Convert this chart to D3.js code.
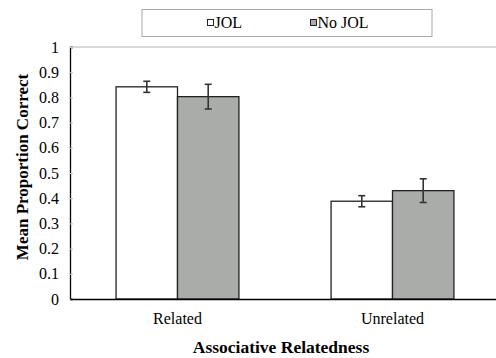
<!DOCTYPE html>
<html>
<head>
<meta charset="utf-8">
<script src="https://cdn.jsdelivr.net/npm/d3@7"></script>
<style>
  body { margin: 0; background: #fff; }
</style>
</head>
<body>
<script>
// data
const categories = ["Related", "Unrelated"];
const series = ["JOL", "No JOL"];
const jolMeans = [0.842, 0.388];
const noJolMeans = [0.803, 0.430];
const jolErr = [0.022, 0.022];
const noJolErr = [0.049, 0.047];
const yTicks = [0, 0.1, 0.2, 0.3, 0.4, 0.5, 0.6, 0.7, 0.8, 0.9, 1];
const fills = ["#ffffff", "#aaacaa"];

const FONT = "Liberation Serif";
const width = 496, height = 358;
const margin = {top: 47, bottom: 59, left: 70, right: -4};

const svg = d3.select('body').append('svg')
    .attr('width', width)
    .attr('height', height)
    .attr('font-family', FONT);

const x0 = d3.scaleBand()
    .domain(categories)
    .range([margin.left, width - margin.right])
    .paddingInner(0).paddingOuter(0);

const x1 = d3.scaleBand()
    .domain(series)
    .range([0, x0.bandwidth()])
    .paddingInner(0)
    .paddingOuter(0.75);

const y = d3.scaleLinear()
    .domain([0, 1])
    .range([height - margin.bottom, margin.top]);

// top border line of plot area
svg.append('line')
    .attr('x1', margin.left).attr('x2', width)
    .attr('y1', y(1)).attr('y2', y(1))
    .attr('stroke', '#b4b4b4').attr('stroke-width', 1);

// y axis
const yAxis = svg.append('g')
    .attr('transform', `translate(${margin.left},0)`)
    .call(d3.axisLeft(y).tickValues(yTicks).tickSize(-3).tickPadding(11)
        .tickFormat(d => d3.format('')(+d.toFixed(1))));
yAxis.attr('font-family', FONT).attr('font-size', 16);
yAxis.select('.domain').attr('stroke', '#000').attr('stroke-width', 1.3);
yAxis.selectAll('.tick line').attr('stroke', '#c8c8c8');
yAxis.selectAll('text').attr('fill', '#000');

// rows of data for bars
const rows = categories.map((c, i) => ({
  cat: c,
  vals: [
    {s: series[0], v: jolMeans[i], e: jolErr[i], f: fills[0]},
    {s: series[1], v: noJolMeans[i], e: noJolErr[i], f: fills[1]}
  ]
}));

const groups = svg.selectAll('g.grp').data(rows).join('g')
    .attr('class', 'grp')
    .attr('transform', d => `translate(${x0(d.cat)},0)`);

groups.selectAll('rect').data(d => d.vals).join('rect')
    .attr('x', d => x1(d.s))
    .attr('y', d => y(d.v))
    .attr('width', x1.bandwidth())
    .attr('height', d => y(0) - y(d.v))
    .attr('fill', d => d.f)
    .attr('stroke', '#222')
    .attr('stroke-width', 1.3);

// error bars
const eb = groups.selectAll('g.err').data(d => d.vals).join('g')
    .attr('class', 'err')
    .attr('transform', d => `translate(${x1(d.s) + x1.bandwidth() / 2},0)`)
    .attr('stroke', '#333').attr('stroke-width', 1.6);
eb.append('line')
    .attr('y1', d => y(d.v + d.e)).attr('y2', d => y(d.v - d.e));
eb.append('line')
    .attr('x1', -3.5).attr('x2', 3.5)
    .attr('y1', d => y(d.v + d.e)).attr('y2', d => y(d.v + d.e));
eb.append('line')
    .attr('x1', -3.5).attr('x2', 3.5)
    .attr('y1', d => y(d.v - d.e)).attr('y2', d => y(d.v - d.e));

// x axis
const xAxis = svg.append('g')
    .attr('transform', `translate(0,${y(0)})`)
    .call(d3.axisBottom(x0).tickSize(0).tickPadding(14));
xAxis.attr('font-family', FONT).attr('font-size', 16);
xAxis.select('.domain').attr('stroke', '#000').attr('stroke-width', 1.3);
xAxis.selectAll('text').attr('fill', '#000');

// axis titles
svg.append('text')
    .attr('x', 281).attr('y', 353)
    .attr('text-anchor', 'middle')
    .attr('font-size', 17.5).attr('font-weight', 'bold')
    .text('Associative Relatedness');

svg.append('text')
    .attr('transform', 'translate(28,167) rotate(-90)')
    .attr('text-anchor', 'middle')
    .attr('font-size', 17).attr('font-weight', 'bold')
    .text('Mean Proportion Correct');

// legend
const legend = svg.append('g');
legend.append('rect')
    .attr('x', 142).attr('y', 9.5)
    .attr('width', 290).attr('height', 27)
    .attr('fill', '#fff').attr('stroke', '#a8a8a8');

const legX = [207, 310];
const items = legend.selectAll('g.item').data(series).join('g')
    .attr('class', 'item')
    .attr('transform', (d, i) => `translate(${legX[i]},23)`);
items.append('rect')
    .attr('x', 0.5).attr('y', -3.5)
    .attr('width', 6).attr('height', 6)
    .attr('fill', (d, i) => fills[i])
    .attr('stroke', '#222').attr('stroke-width', 1);
items.append('text')
    .attr('x', 7.5).attr('y', 5)
    .attr('font-size', 16)
    .text(d => d);
</script>
</body>
</html>
